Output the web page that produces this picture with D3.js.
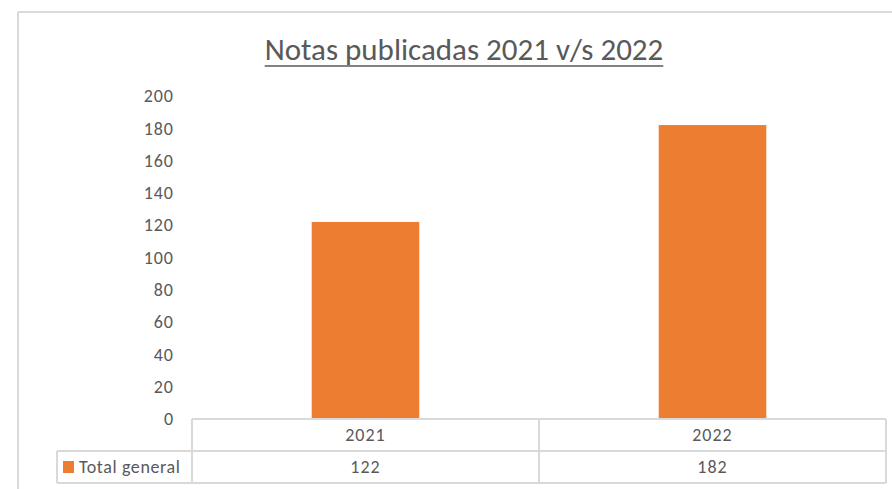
<!DOCTYPE html>
<html>
<head>
<meta charset="utf-8">
<script src="https://cdn.jsdelivr.net/npm/d3@7"></script>
<style>
  body { margin: 0; background: #fff; }
  text { font-family: Carlito, Calibri, Lato, "Open Sans", sans-serif; fill: #595959; }
</style>
</head>
<body>
<div id="chart"></div>
<script>
var categories = ["2021", "2022"];
var values = [122, 182];
var seriesName = "Total general";
var yTicks = [0, 20, 40, 60, 80, 100, 120, 140, 160, 180, 200];
var title = "Notas publicadas 2021 v/s 2022";

var w = 892, h = 489;
var plotLeft = 192, plotRight = 886, plotTop = 96, zeroY = 419;
var rowH = 32;
var legendLeft = 57;
var barColor = "#ED7D31";
var lineColor = "#d9d9d9";

var svg = d3.select("body div#chart").append("svg")
    .attr("width", w)
    .attr("height", h);

// outer chart frame
svg.append("line").attr("x1", 18).attr("x2", w).attr("y1", 12).attr("y2", 12)
  .attr("stroke", lineColor).attr("stroke-width", 2);
svg.append("line").attr("x1", 18).attr("x2", 18).attr("y1", 12).attr("y2", h)
  .attr("stroke", lineColor).attr("stroke-width", 2);

// title
var t = svg.append("text")
  .attr("x", 464).attr("y", 60)
  .attr("text-anchor", "middle")
  .style("font-size", "31px")
  .text(title);
var tb = t.node().getBBox();
svg.append("line")
  .attr("x1", tb.x).attr("x2", tb.x + tb.width)
  .attr("y1", 66).attr("y2", 66)
  .attr("stroke", "#595959").attr("stroke-width", 1.5);

var x = d3.scaleBand().domain(categories).range([plotLeft, plotRight]).paddingInner(0).paddingOuter(0);
var y = d3.scaleLinear().domain([0, 200]).range([zeroY, plotTop]);

var yAxis = svg.append("g")
  .attr("transform", "translate(" + (plotLeft - 18) + ",0)")
  .call(d3.axisLeft(y).tickValues(yTicks).tickSize(0).tickPadding(0));
yAxis.select(".domain").remove();
yAxis.selectAll("text")
  .style("font-size", "18px")
  .style("letter-spacing", "1px")
  .attr("fill", "#595959")
  .attr("font-family", null);

// bars
var bw = x.bandwidth() * 0.31;
svg.selectAll("rect.bar").data(values).enter().append("rect")
  .attr("class", "bar")
  .attr("x", function(d, i) { return x(categories[i]) + x.bandwidth() / 2 - bw / 2; })
  .attr("y", function(d) { return y(d); })
  .attr("width", bw)
  .attr("height", function(d) { return y(0) - y(d); })
  .attr("fill", barColor);

// data table
var tbl = svg.append("g").attr("stroke", lineColor).attr("stroke-width", 2).attr("fill", "none");
var r1 = zeroY, r2 = zeroY + rowH, r3 = zeroY + rowH * 2;
tbl.append("line").attr("x1", plotLeft).attr("x2", plotRight).attr("y1", r1).attr("y2", r1);
tbl.append("line").attr("x1", legendLeft).attr("x2", plotRight).attr("y1", r2).attr("y2", r2);
tbl.append("line").attr("x1", legendLeft).attr("x2", plotRight).attr("y1", r3).attr("y2", r3);
tbl.append("line").attr("x1", legendLeft).attr("x2", legendLeft).attr("y1", r2).attr("y2", r3);
tbl.append("line").attr("x1", plotLeft).attr("x2", plotLeft).attr("y1", r1).attr("y2", r3);
categories.forEach(function(c) {
  tbl.append("line").attr("x1", x(c) + x.bandwidth()).attr("x2", x(c) + x.bandwidth())
    .attr("y1", r1).attr("y2", r3);
});

svg.selectAll("text.cat").data(categories).enter().append("text")
  .attr("class", "cat")
  .attr("x", function(d) { return x(d) + x.bandwidth() / 2; })
  .attr("y", r1 + rowH / 2)
  .attr("dy", "0.35em")
  .attr("text-anchor", "middle")
  .style("font-size", "18px")
  .style("letter-spacing", "1px")
  .text(function(d) { return d; });

svg.selectAll("text.val").data(values).enter().append("text")
  .attr("class", "val")
  .attr("x", function(d, i) { return x(categories[i]) + x.bandwidth() / 2; })
  .attr("y", r2 + rowH / 2)
  .attr("dy", "0.35em")
  .attr("text-anchor", "middle")
  .style("font-size", "18px")
  .style("letter-spacing", "1px")
  .text(function(d) { return d; });

// legend key in the table
svg.append("rect")
  .attr("x", legendLeft + 6).attr("y", r2 + 10)
  .attr("width", 11).attr("height", 12)
  .attr("fill", barColor);
svg.append("text")
  .attr("x", legendLeft + 22).attr("y", r2 + rowH / 2)
  .attr("dy", "0.35em")
  .style("font-size", "18px")
  .style("letter-spacing", "0.6px")
  .text(seriesName);
</script>
</body>
</html>
